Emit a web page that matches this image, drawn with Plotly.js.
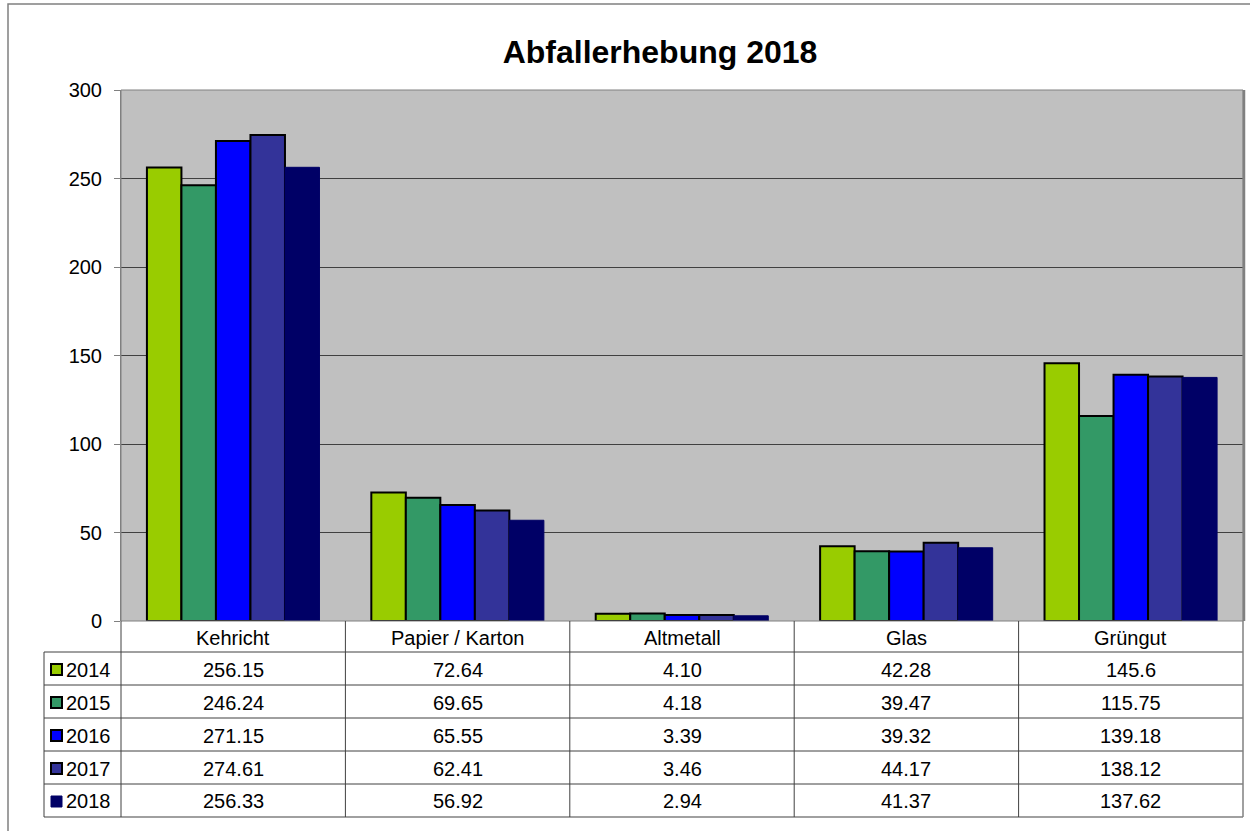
<!DOCTYPE html>
<html>
<head>
<meta charset="utf-8">
<script src="https://cdn.plot.ly/plotly-3.0.1.min.js"></script>
<style>html,body{margin:0;padding:0;background:#fff;}#chart{width:1250px;height:831px;}</style>
</head>
<body>
<div id="chart"></div>
<script>
const categories = ["Kehricht", "Papier / Karton", "Altmetall", "Glas", "Grüngut"];
const years = ["2014", "2015", "2016", "2017", "2018"];
const v2014 = [256.15, 72.64, 4.10, 42.28, 145.6];
const v2015 = [246.24, 69.65, 4.18, 39.47, 115.75];
const v2016 = [271.15, 65.55, 3.39, 39.32, 139.18];
const v2017 = [274.61, 62.41, 3.46, 44.17, 138.12];
const v2018 = [256.33, 56.92, 2.94, 41.37, 137.62];
const labels2014 = ["256.15", "72.64", "4.10", "42.28", "145.6"];
const labels2015 = ["246.24", "69.65", "4.18", "39.47", "115.75"];
const labels2016 = ["271.15", "65.55", "3.39", "39.32", "139.18"];
const labels2017 = ["274.61", "62.41", "3.46", "44.17", "138.12"];
const labels2018 = ["256.33", "56.92", "2.94", "41.37", "137.62"];
const yTicks = [0, 50, 100, 150, 200, 250, 300];

const seriesValues = [v2014, v2015, v2016, v2017, v2018];
const seriesLabels = [labels2014, labels2015, labels2016, labels2017, labels2018];
const colors = ["#99CC00", "#339966", "#0000FF", "#333399", "#000066"];
const lineColors = ["#000000", "#000000", "#000000", "#000000", "#000066"];
const lineWidths = [2, 2, 2, 2, 1];

// pixel layout of plot area
const PL = 121, PR = 1243, PT = 90, PB = 621;
const W = 1250, H = 831;
const px = x => (x - PL) / (PR - PL);
const py = y => (PB - y) / (PB - PT);

const traces = years.map((yr, i) => ({
  type: 'bar', name: yr, x: categories, y: seriesValues[i],
  marker: {color: colors[i], line: {color: lineColors[i], width: lineWidths[i]}},
  hoverinfo: 'x+y+name'
}));

const shapes = [];
const annotations = [];
const font = {family: 'Liberation Sans, Arial, sans-serif', size: 20, color: '#000'};

// outer border
shapes.push({type: 'rect', xref: 'paper', yref: 'paper', x0: px(8), x1: px(1262), y0: py(4), y1: py(845),
  line: {color: '#808080', width: 1.5}, layer: 'below'});
// plot border
shapes.push({type: 'rect', xref: 'paper', yref: 'paper', x0: 0, x1: 1, y0: 0, y1: 1,
  line: {color: '#808080', width: 1}, layer: 'above'});
shapes.push({type: 'line', xref: 'paper', yref: 'paper', x0: px(1244), x1: px(1244), y0: py(621), y1: py(90),
  line: {color: '#808080', width: 2.5}, layer: 'above'});

// table
const rowTops = [621, 652, 685, 718, 751, 784, 817];
const lineCol = '#404040';
for (let r = 1; r < rowTops.length; r++) {
  shapes.push({type: 'line', xref: 'paper', yref: 'paper', x0: px(44), x1: px(1243), y0: py(rowTops[r]), y1: py(rowTops[r]),
    line: {color: r === rowTops.length - 1 ? '#808080' : lineCol, width: r === rowTops.length - 1 ? 1.5 : 1}});
}
for (let k = 0; k <= categories.length; k++) {
  const xx = PL + k * (PR - PL) / categories.length;
  shapes.push({type: 'line', xref: 'paper', yref: 'paper', x0: px(xx), x1: px(xx), y0: py(621), y1: py(817),
    line: {color: k === categories.length ? '#808080' : lineCol, width: k === categories.length ? 1.5 : 1}});
}
shapes.push({type: 'line', xref: 'paper', yref: 'paper', x0: px(44), x1: px(44), y0: py(652), y1: py(817),
  line: {color: lineCol, width: 1}});

// header texts
categories.forEach((c, k) => {
  annotations.push({xref: 'x', yref: 'paper', x: c, y: py((rowTops[0] + rowTops[1]) / 2 + 1), text: c,
    showarrow: false, font: font, xanchor: 'center', yanchor: 'middle'});
});
// rows
years.forEach((yr, i) => {
  const yc = (rowTops[i + 1] + rowTops[i + 2]) / 2 + 1;
  shapes.push({type: 'rect', xref: 'paper', yref: 'paper', x0: px(51), x1: px(62), y0: py(yc - 5.5), y1: py(yc + 5.5),
    fillcolor: colors[i], line: {color: i < 4 ? '#000' : colors[i], width: i < 4 ? 2 : 1}});
  annotations.push({xref: 'paper', yref: 'paper', x: px(64), y: py(yc), text: yr, showarrow: false,
    font: font, xanchor: 'left', yanchor: 'middle'});
  seriesLabels[i].forEach((t, k) => {
    annotations.push({xref: 'x', yref: 'paper', x: categories[k], y: py(yc), text: t, showarrow: false,
      font: font, xanchor: 'center', yanchor: 'middle'});
  });
});

const layout = {
  width: W, height: H,
  margin: {l: PL, r: W - PR, t: PT, b: H - PB, pad: 0},
  paper_bgcolor: '#ffffff', plot_bgcolor: '#C0C0C0',
  title: {text: '<b>Abfallerhebung 2018</b>', x: 0.528, xanchor: 'center', y: 1 - 52 / H, yanchor: 'middle',
    font: {family: 'Liberation Sans, Arial, sans-serif', size: 32, color: '#000'}},
  showlegend: false,
  barmode: 'group', bargap: 0.231, bargroupgap: 0,
  xaxis: {type: 'category', range: [-0.5, 4.5], showticklabels: false, ticks: '', showgrid: false,
    zeroline: false, showline: false, fixedrange: true},
  yaxis: {range: [0, 300], tickvals: yTicks, ticktext: yTicks.map(String), ticks: 'outside', ticklen: 6,
    tickcolor: '#808080', tickwidth: 1, showgrid: true, gridcolor: '#404040', gridwidth: 1,
    zeroline: false, showline: true, linecolor: '#808080', linewidth: 1,
    tickfont: font, ticklabelstandoff: 8, fixedrange: true},
  shapes: shapes,
  annotations: annotations
};

Plotly.newPlot('chart', traces, layout, {displayModeBar: false, staticPlot: true});
</script>
</body>
</html>
